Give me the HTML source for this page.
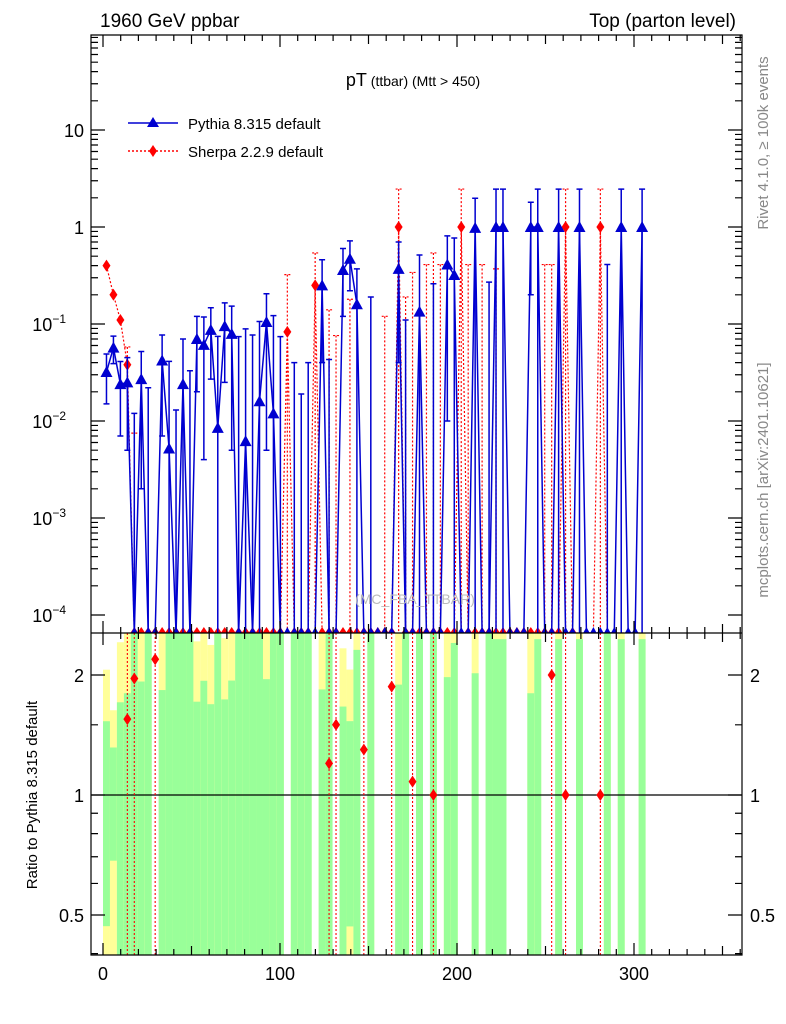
<!DOCTYPE html>
<html><head><meta charset="utf-8"><style>
html,body{margin:0;background:#fff;overflow:hidden;width:786px;height:1024px}
svg{display:block;font-family:"Liberation Sans",sans-serif}
</style></head><body>
<svg id="c" width="786" height="1024" viewBox="0 0 786 1024">
<defs>
<clipPath id="cm"><rect x="91" y="35" width="651" height="598"/></clipPath>
<clipPath id="cr"><rect x="91" y="633" width="651" height="322"/></clipPath>
</defs>
<g id="bands" clip-path="url(#cr)"></g>
<g id="main" clip-path="url(#cm)"></g>
<g id="ratio" clip-path="url(#cr)"></g>
<g id="axes"></g>
<text x="100" y="27" font-size="19">1960 GeV ppbar</text>
<text x="736" y="27" font-size="19" text-anchor="end">Top (parton level)</text>
<text x="413" y="86" text-anchor="middle"><tspan font-size="18">pT</tspan><tspan font-size="14"> (ttbar) (Mtt &gt; 450)</tspan></text>
<g>
<g>
<line x1="128" y1="123" x2="178" y2="123" stroke="#0000d0" stroke-width="1.5"/>
<polygon points="153,117 159,127 147,127" fill="#0000d0"/>
<text x="188" y="129" font-size="15">Pythia 8.315 default</text></g>
<g>
<line x1="128" y1="151" x2="178" y2="151" stroke="red" stroke-width="1.5" stroke-dasharray="2,2"/>
<polygon points="153,145 157,151 153,157 149,151" fill="red"/>
<text x="188" y="157" font-size="15">Sherpa 2.2.9 default</text></g>
</g>
<text x="415" y="604" font-size="14" fill="#bbb" text-anchor="middle">(MC_FBA_TTBAR)</text>
<text transform="translate(768,143) rotate(-90)" font-size="15" fill="#888" text-anchor="middle">Rivet 4.1.0, ≥ 100k events</text>
<text transform="translate(768,480) rotate(-90)" font-size="15" fill="#888" text-anchor="middle">mcplots.cern.ch [arXiv:2401.10621]</text>
<text transform="translate(37,795) rotate(-90)" font-size="15" text-anchor="middle">Ratio to Pythia 8.315 default</text>
</svg>
<script>
const pVal=[.032,.057,.024,.025,0,.027,0,0,.042,.0052,0,.024,0,.07,.061,.087,.0085,.095,.079,0,.0062,0,.016,.105,.012,0,0,0,0,0,0,.25,0,0,.36,.47,.16,0,0,0,0,0,.37,0,0,.134,0,0,0,.41,.32,0,0,.98,0,0,1,1,0,0,0,1,1,0,0,1,0,0,1,0,0,0,0,0,1,0,0,1];
const pErr=[.017,.018,.017,.02,.012,.025,.022,0,.035,.036,.013,.046,.033,.05,.057,.06,.066,.07,.074,.074,.083,.077,.09,.1,.11,.074,0,.04,.019,.04,0,.21,.043,0,.24,.25,.21,0,.19,0,0,0,.33,.11,0,.38,0,.26,0,.4,.45,0,0,1.0,0,.27,1.46,1.46,0,0,0,.8,1.46,0,0,1.46,0,0,1.46,0,0,0,.41,0,1.46,0,0,1.46];
const sVal=[.4,.2,.11,.038,0,0,0,0,0,0,0,0,0,0,0,0,0,0,0,0,0,0,0,0,0,0,.083,0,0,0,.25,0,0,0,0,0,0,0,0,0,0,0,1,0,0,0,0,0,0,0,0,1,0,0,0,0,0,0,0,0,0,0,0,0,0,0,1,0,0,0,0,1,0,0,0,0,0,0];
const sErr=[0,0,0,.02,.0075,0,0,0,0,0,0,0,0,0,0,0,0,0,0,0,0,0,0,0,0,0,.24,0,0,0,.29,0,.14,.076,0,.18,0,0,0,0,.12,0,1.46,.19,.34,0,.41,.54,.41,0,0,1.46,.41,0,.41,0,.37,0,0,0,0,0,0,.41,.41,0,1.46,0,0,0,0,1.46,0,0,0,0,0,0];
const rIdx=[3,4,7,32,33,37,41,44,47,64,66,71];
const rVal=[1.55,1.96,2.19,1.2,1.5,1.3,1.87,1.08,1.0,2.0,1.0,1.0];
const xTicks=[0,100,200,300];
const yTicks=[1e-4,1e-3,1e-2,1e-1,1,10];
const yTickLabels=[["10","−4"],["10","−3"],["10","−2"],["10","−1"],["1",""],["10",""]];
const rTicks=[0.5,1,2];
const rTickLabels=["0.5","1","2"];
const BW=3.93;
const NS="http://www.w3.org/2000/svg";
const xS=v=>103+v*1.77;
const cx=i=>xS((i+0.5)*BW);
const yM=v=>v>0?Math.min(640,227-97*Math.log10(v)):640;
const yR=r=>r>0?Math.max(630,Math.min(958,795-120*Math.log2(r))):958;
function mk(p,t,a){const e=document.createElementNS(NS,t);for(const k in a)e.setAttribute(k,a[k]);document.getElementById(p).appendChild(e);return e;}
// bands
pVal.forEach((v,i)=>{if(pErr[i]<=0)return;const r=v>0?pErr[i]/v:100;const x0=cx(i)-BW*1.77/2,w=BW*1.77;
 const yt=yR(1+2*r),yb=yR(1-2*r);
 const y1=mk('bands','rect',{x:x0,y:yt,width:w,height:Math.max(0,yb-yt),fill:'#ffff99'});
 
 
 const gt=yR(1+r),gb=yR(1-r);
 const g=mk('bands','rect',{x:x0,y:gt,width:w,height:Math.max(0,gb-gt),fill:'#99ff99'});
 
 
});
mk('ratio','line',{x1:91,x2:742,y1:yR(1),y2:yR(1),stroke:'#000','stroke-width':1.2});
// sherpa
let sp=sVal.map((v,i)=>cx(i)+','+(v>0?yM(v):633)).join(' ');
const sl=mk('main','polyline',{points:sp,fill:'none',stroke:'red','stroke-width':1.2,'stroke-dasharray':'2,2'});


sVal.forEach((v,i)=>{const x=cx(i),y=v>0?yM(v):633;
 if(sErr[i]>0){const e=mk('main','path',{d:`M${x},${yM(v+sErr[i])}L${x},${v-sErr[i]>0?yM(v-sErr[i]):640}M${x-3},${yM(v+sErr[i])}h6`,stroke:'red','stroke-width':1.2,'stroke-dasharray':'2,2',fill:'none'});
 
 }
 if(v>0||(i>=4&&i<=67)){const d=mk('main','polygon',{points:`${x},${y-6} ${x+4},${y} ${x},${y+6} ${x-4},${y}`,fill:'red'});
 
 }
});
// pythia
let pp=pVal.map((v,i)=>cx(i)+','+(v>0?yM(v):633)).join(' ');
const pl=mk('main','polyline',{points:pp,fill:'none',stroke:'#0000d0','stroke-width':1.5});


pVal.forEach((v,i)=>{const x=cx(i),y=v>0?yM(v):633;
 if(pErr[i]>0){const top=yM(v+pErr[i]),bot=v-pErr[i]>0?yM(v-pErr[i]):640;
 const e=mk('main','path',{d:`M${x},${top}L${x},${bot}M${x-3},${top}h6`+(bot<633?`M${x-3},${bot}h6`:''),stroke:'#0000d0','stroke-width':1.5,fill:'none'});
 
 }
 const t=mk('main','polygon',{points:`${x},${y-6} ${x+6},${y+5} ${x-6},${y+5}`,fill:'#0000d0'});
 
 
});
// ratio points
rIdx.forEach((i,k)=>{const x=cx(i),y=yR(rVal[k]);
 const e=mk('ratio','line',{x1:x,x2:x,y1:633,y2:955,stroke:'red','stroke-width':1.1,'stroke-dasharray':'2,2'});
 
 
 const d=mk('ratio','polygon',{points:`${x},${y-6} ${x+4},${y} ${x},${y+6} ${x-4},${y}`,fill:'red'});
 
 
});
// axes
let a='M91,35H742V955H91ZM91,633H742';
for(let v=0;v<=360;v+=10){const x=xS(v);const L=v%100===0?12:(v%50===0?9:6);
 a+=`M${x},955v-${L}M${x},633v-${L}M${x},633v${L}M${x},35v${L}`;}
for(let e=-4;e<=2;e++)for(let m=1;m<10;m++){const v=m*Math.pow(10,e),y=227-97*Math.log10(v);if(y<35||y>633)continue;const L=m===1?14:7;a+=`M91,${y}h${L}M742,${y}h-${L}`;}
[0.4,0.5,0.6,0.7,0.8,0.9,1,1.5,2].forEach(r=>{const y=yR(r);if(y<633||y>955)return;const L=(r===1||r===2||r===0.5)?14:7;a+=`M91,${y}h${L}M742,${y}h-${L}`;});
const ax=mk('axes','path',{d:a,stroke:'#000','stroke-width':1.2,fill:'none'});


xTicks.forEach(v=>{const t=mk('axes','text',{x:xS(v),y:980,'font-size':18,'text-anchor':'middle'});t.textContent=v;
 
 });
yTicks.forEach((v,k)=>{const t=mk('axes','text',{x:84,y:227-97*Math.log10(v)+7,'font-size':18,'text-anchor':'end'});
 
 
 if(yTickLabels[k][1]){t.setAttribute('x',66);t.innerHTML=yTickLabels[k][0]+'<tspan font-size="12" dy="-8">'+yTickLabels[k][1]+'</tspan>';}else t.textContent=yTickLabels[k][0];});
rTicks.forEach((v,k)=>{[84,750].forEach(x=>{const t=mk('axes','text',{x:x,y:yR(v)+7,'font-size':18,'text-anchor':x<100?'end':'start'});t.textContent=rTickLabels[k];
 
 });});
</script>
</body></html>
